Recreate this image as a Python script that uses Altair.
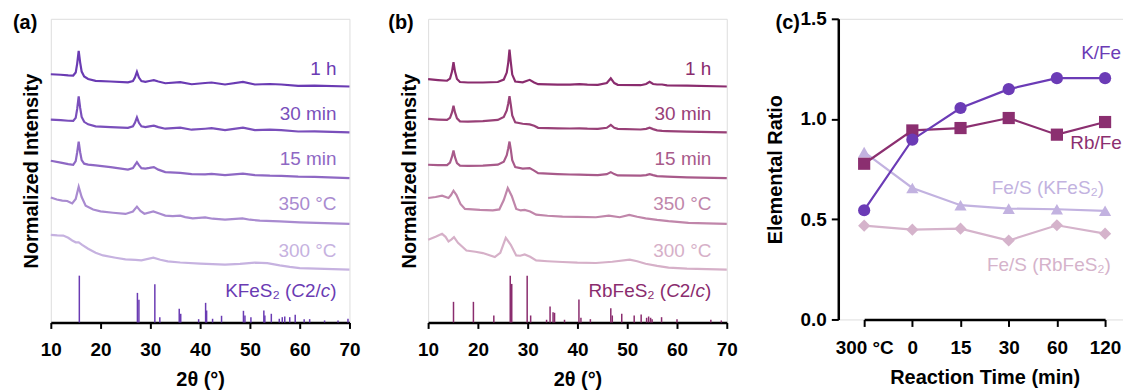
import altair as alt
import pandas as pd

FONT = "Liberation Sans"

# ---------------- panel (a): KFeS2 ----------------
a_names = ["1 h", "30 min", "15 min", "350 °C", "300 °C"]
a_colors = ["#6A3BB3", "#7A4FBB", "#8E68C4", "#A98BD0", "#C6B2E0"]
a_offsets = [237, 191, 145, 99, 53]

a_x_fine = [10, 12, 13.5, 14.5, 15.0, 15.3, 15.6, 15.9, 16.2, 16.7, 17.5, 19.0, 22, 25.5, 26.5, 26.9, 27.3,
            27.7, 28.2, 29.0, 29.8, 30.7, 31.6, 33.0, 36.0, 38.3, 41.0, 42.3, 45.0, 48.6, 51.0, 54.0, 56.3,
            59.7, 63, 70]
a_1h = [12.3, 11.8, 11.2, 11, 14, 23, 35.7, 24, 15, 10, 7.5, 5.7, 5, 4.2, 5.5, 9, 14.7, 9, 5.5, 4.7, 5.5,
        6.3, 5, 3.3, 4.3, 2.3, 3.5, 4, 2, 4.7, 2, 2.5, 2, 0.7, 0.8, 0]
a_30m = [12.7, 12.2, 11.6, 11.4, 14.5, 23.5, 36, 24.5, 15.5, 10.5, 8, 6, 5.2, 4.5, 6, 9.5, 15, 9.5, 6, 5.2,
         6, 6.7, 5.2, 3.6, 4.6, 2.6, 3.6, 4.2, 2.2, 4.6, 2.2, 2.6, 2.1, 0.8, 0.9, 0]
a_15m = [17.4, 15.5, 14, 13.4, 17, 26, 36.7, 26, 18, 14.5, 13.5, 12.8, 11, 8.6, 10, 13, 16, 13, 10, 9.6,
         10.2, 11, 8.5, 6, 5.2, 4, 3.8, 4.3, 3, 4.4, 3, 2.4, 2.2, 1.5, 1.2, 0]
a_x_350 = [10, 11.2, 12.3, 13.3, 14.3, 15.0, 15.6, 16.2, 17.0, 18.5, 20, 22.5, 25.0, 26.5, 27.3, 28.0, 28.8,
           30.6, 31.8, 33.0, 34.5, 36.0, 37.0, 38.5, 41.0, 42.5, 45.0, 48.5, 50.0, 52.0, 56.0, 60.0, 65.0, 70]
a_350 = [26.6, 24.5, 23.3, 23.0, 20.6, 25, 37.3, 27, 18.3, 14.5, 12.6, 11.2, 10, 12.5, 17.3, 13, 10.2, 12.6,
         10.5, 8.3, 7.8, 8.3, 6.8, 5.6, 6.6, 5.2, 4.3, 5.6, 4.2, 3.3, 2.5, 1.6, 0.8, 0]
a_x_300 = [10, 11.3, 12.5, 13.5, 14.3, 15.0, 15.6, 16.3, 17.5, 19.0, 20.5, 23.0, 25.0, 27.0, 28.2, 30.6, 32.0,
           33.5, 36.0, 40.0, 45.0, 48.0, 51.0, 53.5, 56.0, 58.0, 60.0, 65.0, 70]
a_300 = [35, 34.5, 34.3, 32, 29.3, 27.5, 27.5, 25, 21, 17, 14.3, 12, 10.3, 9.8, 9.3, 12, 10, 8.3, 7.2, 6, 5,
         5.8, 7, 6.5, 4.3, 2.8, 1.6, 0.8, 0]

a_stick_x = [15.73, 27.4, 27.7, 30.9, 31.9, 35.8, 36.1, 39.7, 41.1, 41.3, 42.5, 44.3, 48.7, 49.0, 50.2, 52.8,
             53.0, 54.3, 55.9, 56.5, 57.0, 58.0, 59.1, 60.9, 62.0, 65.0, 67.7, 69.7]
a_stick_h = [47, 29.7, 22.7, 38.3, 5.3, 13.7, 8.7, 3.3, 19.7, 12, 3.7, 6.7, 11.7, 7, 5.3, 12, 7, 8.7, 3.7, 5.3,
             6, 5.3, 7.7, 3.3, 3.3, 2, 2, 3.7]

# ---------------- panel (b): RbFeS2 ----------------
b_names = ["1 h", "30 min", "15 min", "350 °C", "300 °C"]
b_colors = ["#8A2C6E", "#984077", "#A85A8A", "#C086AA", "#D6B0C8"]
b_offsets = [237, 191, 145, 99, 53]

b_x_fine = [10, 12, 13.8, 14.4, 14.8, 15.1, 15.4, 15.8, 16.4, 18, 21, 24.0, 25.2, 25.8, 26.1, 26.35, 26.6,
            26.9, 27.5, 29.0, 30.4, 31.3, 32.1, 36.0, 38.5, 40.4, 42.0, 44.1, 45.9, 46.7, 47.4, 48.1, 52.7,
            53.8, 54.5, 55.2, 56.0, 57.0, 58.0, 62.0, 70]
b_1h = [7.5, 6.5, 5.8, 8, 15, 24.5, 15, 7.5, 4.5, 4, 4, 4.5, 7, 14, 24, 37, 25, 12, 5, 4.2, 6.7, 4, 2.3, 1.8,
        1.8, 2.3, 1.8, 1.7, 3.5, 8.3, 3.5, 1.7, 1.3, 2.5, 4.7, 2.5, 2, 2, 1.2, 0.8, 0]
b_30m = [13.4, 12.8, 12.4, 14.5, 20, 26.7, 20, 14, 11, 10.8, 11.2, 12.5, 15.5, 22, 29, 36.4, 28, 17, 10, 8.6,
         8, 6.5, 4.5, 4, 3.8, 4, 3.6, 3.4, 4.5, 7.4, 4.5, 3.4, 2.8, 3.5, 4.7, 3.2, 2, 1.4, 1.2, 0.6, 0]
b_15m = [13.4, 13, 13, 15.5, 21.5, 27.7, 21, 15, 12.5, 12.3, 12.5, 13.5, 16.5, 23, 30, 36.7, 29, 18, 11, 9.5,
         10, 7.5, 5, 4, 3.6, 3.4, 3.2, 3, 4, 6, 4, 2.7, 2.5, 3, 4, 3, 2, 1.7, 1.5, 0.8, 0]
b_x_350 = [10, 11.5, 12.8, 14.1, 14.6, 15.1, 15.7, 16.5, 17.4, 20.4, 23.0, 24.3, 25.2, 26.0, 26.8, 27.7, 28.6,
           29.4, 30.5, 31.7, 34.0, 37.0, 40.0, 43.7, 46.3, 48.5, 50.4, 52.0, 53.7, 56.0, 58.3, 62.3, 66.0, 70]
b_350 = [26, 27, 28.3, 26, 29, 33.3, 29, 20, 15, 14, 13.5, 14.5, 24, 36, 28, 15, 13.5, 14, 12.5, 9.3, 8.2, 7.3,
         7, 6.7, 8.3, 6.7, 9, 7.2, 5.6, 4, 2.7, 1, 0.5, 0]
b_x_300 = [10, 11.5, 12.8, 13.5, 14.1, 14.7, 15.2, 16.0, 17.7, 19.5, 21.0, 23.4, 24.5, 25.6, 26.6, 27.7, 28.5,
           29.4, 30.5, 31.7, 34.0, 37.0, 40.0, 43.7, 47.0, 50.5, 52.0, 53.7, 56.0, 58.3, 62.0, 66.0, 70]
b_300 = [30, 33, 36, 33, 28.3, 30.5, 32.7, 27, 19.3, 18, 16.7, 12.7, 17, 32, 25, 14.3, 14, 15.3, 13, 9.3, 8.5,
         7.7, 7, 6.7, 8, 10, 8.5, 6, 3.8, 2, 1, 0.5, 0]

b_stick_x = [15.1, 19.1, 23.2, 26.5, 26.8, 29.9, 30.6, 33.8, 34.5, 35.1, 35.4, 37.4, 40.3, 40.7, 42.6, 46.7,
             47.0, 48.9, 51.4, 52.8, 53.9, 54.3, 54.7, 55.0, 56.9, 60.0, 66.8, 68.9]
b_stick_h = [20.7, 20.7, 7, 47, 38.7, 47, 7, 2.7, 16, 10.3, 9.7, 2.7, 23, 4.7, 3.3, 14.3, 7, 8.7, 7, 8, 4.7, 6,
             4.7, 3.3, 5.3, 3.3, 2.7, 2]

# label anchors (2theta, height) for panels (a) and (b)
a_label_x = [67.4] * 5
b_label_x = [66.9] * 5
label_y = [255, 209, 164, 119, 72]
phase_y = 32
# phase label pieces: (text, italic); right-aligned pieces placed from the right
a_phase = [("KFeS₂ (", False), ("C", True), ("2/", False), ("c", True), (")", False)]
b_phase = [("RbFeS₂ (", False), ("C", True), ("2/", False), ("c", True), (")", False)]

# ---------------- panel (c): elemental ratios ----------------
times = ["300 °C", "0", "15", "30", "60", "120"]
c_names = ["Fe/S (RbFeS₂)", "Fe/S (KFeS₂)", "Rb/Fe", "K/Fe"]
c_colors = ["#D5B3CB", "#C2B2E0", "#8B2F70", "#6B3BB6"]
c_shapes = ["diamond", "triangle-up", "square", "circle"]
fes_rb = [0.468, 0.448, 0.453, 0.394, 0.470, 0.428]
fes_k = [0.835, 0.656, 0.570, 0.553, 0.550, 0.542]
rb_fe = [0.777, 0.943, 0.955, 1.005, 0.922, 0.985]
k_fe = [0.545, 0.897, 1.055, 1.149, 1.204, 1.204]

# ------------------------------------------------------------------

AX_COMMON = dict(grid=False, domainColor="black", tickColor="black", labelColor="black", titleColor="black",
                 labelFont=FONT, titleFont=FONT, labelFontWeight="bold", titleFontWeight="bold",
                 labelFontSize=19, titleFontSize=20)

# approximate advance widths (em) for the right-aligned pieces of the phase label
PIECE_EM = {")": 0.333, "c": 0.5, "2/": 0.834, "C": 0.722}


def stack(names, colors, xs_list, hs_list, offsets):
    rows = []
    for name, col, xs, hs, off in zip(names, colors, xs_list, hs_list, offsets):
        for x, h in zip(xs, hs):
            rows.append({"x": x, "y": h + off, "series": name, "color": col})
    return pd.DataFrame(rows)


def xrd_panel(names, colors, offsets, xs_list, hs_list, stick_x, stick_h, stick_color,
              phase_pieces, label_x, tag, tag_dx):
    curves = stack(names, colors, xs_list, hs_list, offsets)
    sticks = pd.DataFrame({"x": stick_x, "h": stick_h, "y0": [0] * len(stick_x)})
    labels = pd.DataFrame({"x": label_x, "y": label_y, "text": names, "color": colors})
    tagdf = pd.DataFrame({"x": [10], "y": [305], "text": [tag]})
    xsc = alt.Scale(domain=[10, 70], nice=False, zero=False)
    ysc = alt.Scale(domain=[0, 305], nice=False, zero=False)
    xax = alt.Axis(values=[10, 20, 30, 40, 50, 60, 70], title="2θ (°)", domainWidth=2.5, tickWidth=2,
                   tickSize=6, labelPadding=12, titlePadding=10, labelFlush=False, **AX_COMMON)
    yax = alt.Axis(title="Normalized Intensity", labels=False, ticks=False, domain=False, titlePadding=9,
                   **AX_COMMON)
    X = alt.X("x:Q", scale=xsc, axis=xax)
    Y = alt.Y("y:Q", scale=ysc, axis=yax)
    lines = alt.Chart(curves).mark_line(strokeWidth=2.2).encode(
        x=X, y=Y, color=alt.Color("color:N", scale=None), detail="series:N",
    )
    rules = alt.Chart(sticks).mark_rule(strokeWidth=1.5, color=stick_color).encode(
        x=X, y=alt.Y("y0:Q", scale=ysc, axis=yax), y2="h:Q",
    )
    text = alt.Chart(labels).mark_text(align="right", baseline="middle", fontSize=19, font=FONT).encode(
        x=X, y=Y, text="text:N", color=alt.Color("color:N", scale=None),
    )
    # phase label built from right to left so "C2/c" can be set in italics
    piece_layers = []
    shift = 0.0
    for txt, ital in reversed(phase_pieces):
        pdf = pd.DataFrame({"x": [label_x[0]], "y": [phase_y], "text": [txt]})
        piece_layers.append(
            alt.Chart(pdf).mark_text(align="right", baseline="middle", fontSize=19, font=FONT,
                                     fontStyle="italic" if ital else "normal", dx=-shift,
                                     color=stick_color).encode(x=X, y=Y, text="text:N")
        )
        shift += PIECE_EM.get(txt, 0) * 19
    tag_t = alt.Chart(tagdf).mark_text(align="left", baseline="top", dx=tag_dx, dy=-6, fontSize=20,
                                       fontWeight="bold", font=FONT, color="black").encode(
        x=X, y=Y, text="text:N")
    return alt.layer(rules, lines, text, *piece_layers, tag_t).properties(width=300, height=305)


panel_a = xrd_panel(a_names, a_colors, a_offsets,
                    [a_x_fine, a_x_fine, a_x_fine, a_x_350, a_x_300],
                    [a_1h, a_30m, a_15m, a_350, a_300],
                    a_stick_x, a_stick_h, "#6A3BB3", a_phase, a_label_x, "(a)", -38)
panel_b = xrd_panel(b_names, b_colors, b_offsets,
                    [b_x_fine, b_x_fine, b_x_fine, b_x_350, b_x_300],
                    [b_1h, b_30m, b_15m, b_350, b_300],
                    b_stick_x, b_stick_h, "#8A2C6E", b_phase, b_label_x, "(b)", -40)

# panel (c)
rows = []
for name, col, shp, vals in zip(c_names, c_colors, c_shapes, [fes_rb, fes_k, rb_fe, k_fe]):
    for t, v in zip(times, vals):
        rows.append({"t": t, "v": v, "series": name, "color": col, "shape": shp})
cdf = pd.DataFrame(rows)

cx = alt.X("t:N", sort=times, scale=alt.Scale(type="point", range=[26, 268], padding=0),
           axis=alt.Axis(title="Reaction Time (min)", labelAngle=0, domainWidth=2.5, tickWidth=2, tickSize=7,
                         labelPadding=12, titlePadding=10, **AX_COMMON))
cy = alt.Y("v:Q", scale=alt.Scale(domain=[0, 1.5], nice=False),
           axis=alt.Axis(title="Elemental Ratio", values=[0, 0.5, 1.0, 1.5], format=".1f", domainWidth=2.5,
                         tickWidth=2, tickSize=7, labelPadding=5, titlePadding=15, **AX_COMMON))

c_lines = alt.Chart(cdf).mark_line(strokeWidth=2.2).encode(
    x=cx, y=cy, color=alt.Color("color:N", scale=None), detail="series:N")
c_points = alt.Chart(cdf).mark_point(filled=True, opacity=1, size=150).encode(
    x=cx, y=cy, color=alt.Color("color:N", scale=None), shape=alt.Shape("shape:N", scale=None))

c_labels = [
    ("K/Fe", "120", 1.33, -4, "center", "#6B3BB6"),
    ("Rb/Fe", "120", 0.882, -35, "left", "#8B2F70"),
    ("Fe/S (KFeS₂)", "60", 0.658, -9, "center", "#C2B2E0"),
    ("Fe/S (RbFeS₂)", "60", 0.274, -8, "center", "#D5B3CB"),
]
c_text_layers = []
for txt, tcat, yv, ddx, al, col in c_labels:
    c_text_layers.append(
        alt.Chart(pd.DataFrame({"t": [tcat], "v": [yv], "label": [txt]})).mark_text(
            align=al, baseline="middle", dx=ddx, fontSize=19, font=FONT, color=col
        ).encode(x=cx, y=cy, text="label:N")
    )
c_tag = alt.Chart(pd.DataFrame({"t": ["300 °C"], "v": [1.5], "label": ["(c)"]})).mark_text(
    align="left", baseline="top", dx=-89, dy=-6, fontSize=20, fontWeight="bold", font=FONT, color="black"
).encode(x=cx, y=cy, text="label:N")

panel_c = alt.layer(c_lines, c_points, *c_text_layers, c_tag).properties(width=287, height=302)

chart = alt.hconcat(panel_a, panel_b, panel_c, spacing=26).properties(
    padding={"left": 4, "top": 0, "right": -2, "bottom": 0}
).configure_view(stroke="black", strokeWidth=1.5).configure(font=FONT)

chart.save("out.html", embed_options={"renderer": "svg", "actions": False})
